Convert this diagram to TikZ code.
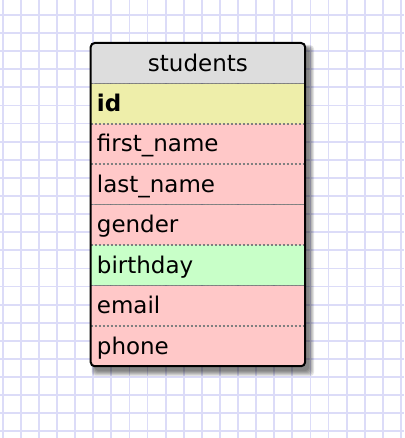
\documentclass[tikz,border=0pt]{standalone}
\usepackage{fontspec}
\setmainfont{DejaVu Sans}
\usetikzlibrary{positioning,backgrounds,calc}
\definecolor{gridblue}{RGB}{220,220,248}
\definecolor{headgray}{RGB}{221,221,221}
\definecolor{keyyellow}{RGB}{238,238,170}
\definecolor{fieldpink}{RGB}{255,200,200}
\definecolor{datefield}{RGB}{200,255,200}
\definecolor{sepgray}{RGB}{128,128,128}
\tikzset{
  gridline/.style={draw=gridblue, line width=1.8pt},
  row/.style={rectangle, minimum height=40pt, text width=202pt, inner xsep=6pt,
    inner ysep=0pt, text height=19pt, text depth=3pt, align=left,
    font=\fontsize{23}{27}\selectfont},
  header/.style={row, fill=headgray, align=center},
  keyrow/.style={row, fill=keyyellow, font=\fontsize{23}{27}\selectfont\bfseries},
  fieldrow/.style={row, fill=fieldpink},
  daterow/.style={row, fill=datefield},
  sep/.style={draw=sepgray, line width=1.6pt, dash pattern=on 2pt off 2pt},
  frame/.style={draw=black, line width=2pt, rounded corners=4pt}
}

\begin{document}
\begin{tikzpicture}[x=1pt, y=-1pt]
    \useasboundingbox (0,0) rectangle (404,438);
    % table rows
    \node[header, anchor=north west] (title) at (90.7,43) {students};
    \node[keyrow, below=0pt of title] (id) {id};
    \node[fieldrow, below=0pt of id] (firstname) {first\_name};
    \node[fieldrow, below=0pt of firstname] (lastname) {last\_name};
    \node[fieldrow, below=0pt of lastname] (gender) {gender};
    \node[daterow, below=0pt of gender] (birthday) {birthday};
    \node[fieldrow, below=0pt of birthday] (email) {email};
    \node[fieldrow, below=0pt of email] (phone) {phone};
    %
    \foreach \r in {id,firstname,lastname,gender,birthday,email,phone}
      \draw[sep] (\r.north west) -- (\r.north east);
    \draw[frame] (title.north west) rectangle (phone.south east);
    %
    \begin{scope}[on background layer]
      \foreach \i in {0,...,22}
        \draw[gridline] (2.7+18.1*\i,0) -- ++(0,438);
      \foreach \j in {0,...,23}
        \draw[gridline] (0,15+18.1*\j) -- ++(404,0);
      % blurred shadow
      \foreach \k in {0,...,5}
        \fill[black, opacity=0.1, rounded corners=4pt]
          ($(title.north west)+(4-0.6*\k,5-0.6*\k)$) rectangle ($(phone.south east)+(4+\k,5+\k)$);
    \end{scope}
\end{tikzpicture}
\end{document}
